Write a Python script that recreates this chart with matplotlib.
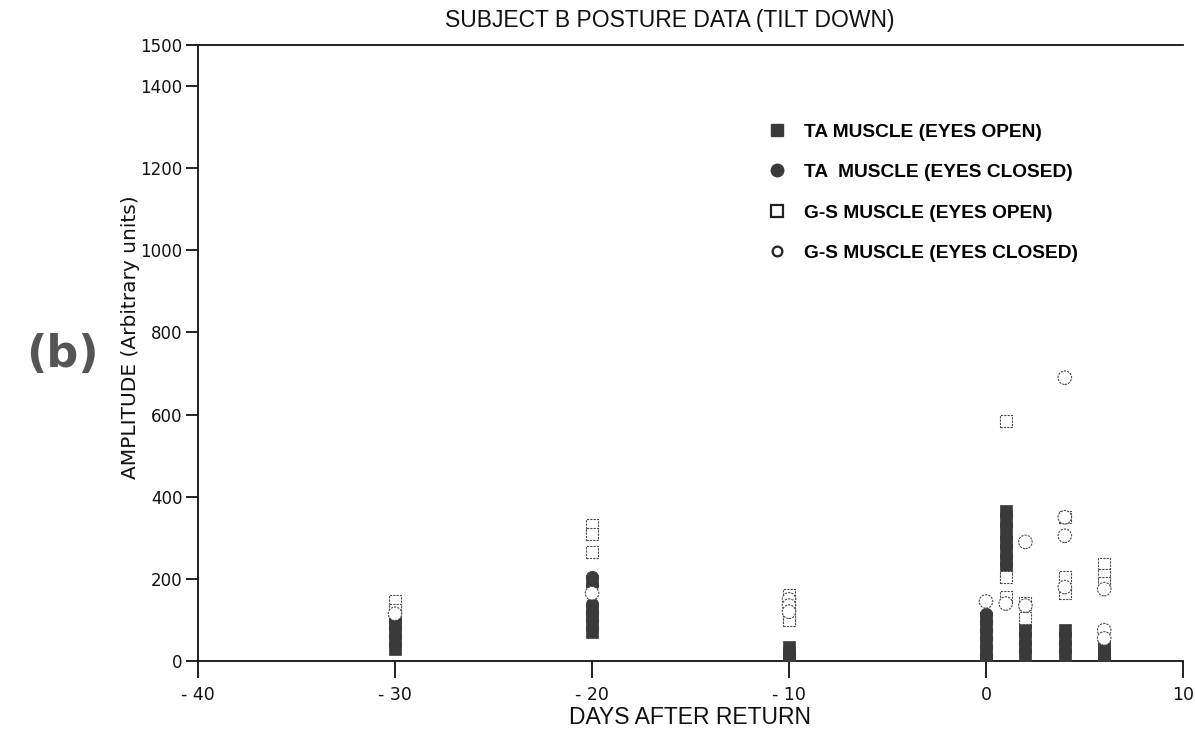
import matplotlib
matplotlib.use("Agg")
import matplotlib.pyplot as plt
from matplotlib.lines import Line2D

# ---------------- data ----------------
x_ticks = [-40, -30, -20, -10, 0, 10]
x_tick_labels = ["- 40", "- 30", "- 20", "- 10", "0", "10"]
y_ticks = [0, 200, 400, 600, 800, 1000, 1200, 1400, 1500]
y_tick_labels = ["0", "200", "400", "600", "800", "1000", "1200", "1400", "1500"]

ta_open_x = [-30]*5 + [-20]*5 + [-10]*3 + [0]*6 + [1]*7 + [2]*4 + [4]*4 + [6]*3
ta_open_y = [30, 50, 70, 90, 105,
             70, 90, 110, 125, 195,
             5, 20, 35,
             5, 25, 45, 65, 85, 105,
             365, 345, 320, 290, 265, 245, 225,
             15, 35, 55, 75,
             15, 35, 55, 75,
             5, 20, 35]

ta_closed_x = [-30]*4 + [-20]*6 + [-10]*2 + [0]*7 + [1]*6 + [2]*4 + [4]*4 + [6]*4
ta_closed_y = [40, 60, 80, 100,
               80, 100, 120, 140, 185, 205,
               15, 130,
               0, 15, 35, 55, 75, 95, 115,
               355, 330, 300, 280, 255, 235,
               25, 45, 65, 85,
               25, 45, 65, 175,
               0, 15, 30, 45]

gs_open_x = [-30]*2 + [-20]*3 + [-10]*4 + [1]*3 + [2]*2 + [4]*3 + [6]*3
gs_open_y = [145, 125,
             330, 310, 265,
             160, 145, 110, 100,
             585, 205, 155,
             105, 140,
             350, 205, 165,
             235, 210, 190]

gs_closed_x = [-30] + [-20] + [-10]*3 + [0] + [1] + [2]*2 + [4]*4 + [6]*3
gs_closed_y = [115,
               165,
               150, 135, 120,
               145,
               140,
               290, 135,
               690, 350, 305, 180,
               175, 75, 55]

labels = ["TA MUSCLE (EYES OPEN)", "TA  MUSCLE (EYES CLOSED)",
          "G-S MUSCLE (EYES OPEN)", "G-S MUSCLE (EYES CLOSED)"]

# ---------------- figure ----------------
W, H = 1195, 737
fig = plt.figure(figsize=(W/100, H/100), dpi=100)
ax = fig.add_axes([198/W, 1-661/H, (1183-198)/W, (661-45)/H])

dark = "#3a3a3a"
edge = "#4a4a4a"

ax.scatter(ta_open_x, ta_open_y, marker="s", s=70, c=dark, edgecolors=dark,
           linewidths=0.5, zorder=3)
ax.scatter(ta_closed_x, ta_closed_y, marker="o", s=80, c=dark, edgecolors=dark,
           linewidths=0.5, zorder=3)
ax.scatter(gs_open_x, gs_open_y, marker="s", s=75, facecolors="white",
           edgecolors=edge, linewidths=0.8, linestyle=(0, (2, 1)), zorder=4)
ax.scatter(gs_closed_x, gs_closed_y, marker="o", s=95, facecolors="white",
           edgecolors=edge, linewidths=0.8, linestyle=(0, (2, 1)), zorder=4)

ax.set_xlim(-40, 10)
ax.set_ylim(0, 1500)
ax.set_xticks(x_ticks)
ax.set_xticklabels(x_tick_labels)
ax.set_yticks(y_ticks)
ax.set_yticklabels(y_tick_labels)
ax.spines["right"].set_visible(False)
for s in ["left", "top", "bottom"]:
    ax.spines[s].set_linewidth(1.3)
    ax.spines[s].set_color("#111111")
ax.tick_params(axis="x", direction="out", length=12, width=1.3, pad=6,
               labelsize=12.5, colors="#111111")
ax.tick_params(axis="y", direction="out", length=9, width=1.3, pad=2,
               labelsize=12, colors="#111111")
for lab in ax.get_xticklabels() + ax.get_yticklabels():
    lab.set_family("DejaVu Sans")

# legend
handles = [
    Line2D([], [], marker="s", ls="none", ms=8, mfc=dark, mec=dark),
    Line2D([], [], marker="o", ls="none", ms=9, mfc=dark, mec=dark),
    Line2D([], [], marker="s", ls="none", ms=8, mfc="white", mec="#222222", mew=1.6),
    Line2D([], [], marker="o", ls="none", ms=7, mfc="white", mec="#222222", mew=1.6),
]
leg = ax.legend(handles, labels, loc="upper left",
                bbox_to_anchor=(750/W, 1-106/H), bbox_transform=fig.transFigure,
                frameon=False, handlelength=1.0, handletextpad=0.9,
                labelspacing=1.2, prop={"family": "Liberation Sans",
                                        "weight": "bold", "size": 13.8})

fig.text(670/W, 1-20/H, "SUBJECT B POSTURE DATA (TILT DOWN)", ha="center",
         va="center", fontsize=16.5, family="Liberation Sans", color="#111111")
fig.text(690/W, 1-718/H, "DAYS AFTER RETURN", ha="center", va="center",
         fontsize=16.5, family="Liberation Sans", color="#111111")
fig.text(130/W, 1-337/H, "AMPLITUDE (Arbitrary units)", ha="center",
         va="center", rotation=90, fontsize=14.5, family="DejaVu Sans",
         color="#111111")
fig.text(62/W, 1-355/H, "(b)", ha="center", va="center", fontsize=32,
         weight="bold", family="DejaVu Sans", color="#555555")

fig.savefig("out.png", dpi=100)
